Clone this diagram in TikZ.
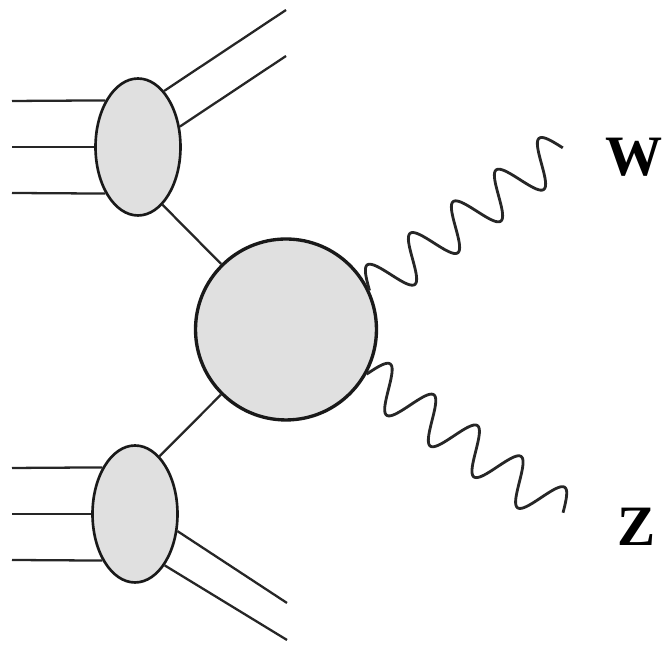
\documentclass[tikz,border=0pt]{standalone}
\usepackage{fontspec}
\setmainfont{Liberation Serif}
\usetikzlibrary{shapes.geometric}
\usetikzlibrary{calc}

\tikzset{
  blob/.style={ellipse, draw=black!90, line width=1.5pt, fill=black!12,
    minimum width=1.7cm, minimum height=2.74cm, inner sep=0pt},
  hardblob/.style={circle, draw=black!90, line width=1.9pt, fill=black!12,
    minimum size=3.62cm, inner sep=0pt},
  leg/.style={line width=1.3pt, draw=black!85},
  boson/.style={line width=1.6pt, draw=black!85, line join=round},
  lbl/.style={font=\fontsize{32.5}{38}\selectfont\bfseries, inner sep=0pt}
}

\begin{document}
\begin{tikzpicture}[x=0.02cm, y=0.02cm]
\useasboundingbox (0,0) rectangle (664,651);
\node[blob] (protA) at (138,504) {};
\node[blob] (protB) at (135,137) {};
\node[hardblob] (hard) at (286,321.5) {};
\coordinate (inA1) at (12,550);
\coordinate (inA2) at (12,504);
\coordinate (inA3) at (12,458);
\coordinate (inB1) at (12,183);
\coordinate (inB2) at (12,137);
\coordinate (inB3) at (12,91);
\coordinate (jetA1) at (286,641);
\coordinate (jetA2) at (286,595);
\coordinate (jetB1) at (287,48);
\coordinate (jetB2) at (287,11);
\coordinate (wEnd) at (563,503);
\coordinate (zEnd) at (563,138);
% incoming partons and remnants
\foreach \a/\n in {125/1,180/2,235/3} {
  \draw[leg] (protA.\a) -- (inA\n);
  \draw[leg] (protB.\a) -- (inB\n);
}
\draw[leg] (protA.65) -- (jetA1);
\draw[leg] (protA.26) -- (jetA2);
\draw[leg] (protB.-22) -- (jetB1);
\draw[leg] (protB.-60) -- (jetB2);
\draw[leg] (protA.-67) -- (hard);
\draw[leg] (protB.67) -- (hard);
% bosons
\draw[boson] let \p1=($(wEnd)-(hard.25)$), \n1={atan2(\y1,\x1)}, \n2={veclen(\x1,\y1)} in
  [shift={(hard.25)}, rotate=\n1] plot[variable=\t, domain=0:1, samples=180, smooth] ({\t*\n2}, {0.44cm*sin(\t*1620)});
\draw[boson] let \p1=($(zEnd)-(hard.-29)$), \n1={atan2(\y1,\x1)}, \n2={veclen(\x1,\y1)} in
  [shift={(hard.-29)}, rotate=\n1] plot[variable=\t, domain=0:1, samples=180, smooth] ({\t*\n2}, {0.44cm*sin(\t*1620)});
\node[lbl] (W) at (634,494) {W};
\node[lbl] (Z) at (636.5,124.5) {Z};
\end{tikzpicture}
\end{document}
